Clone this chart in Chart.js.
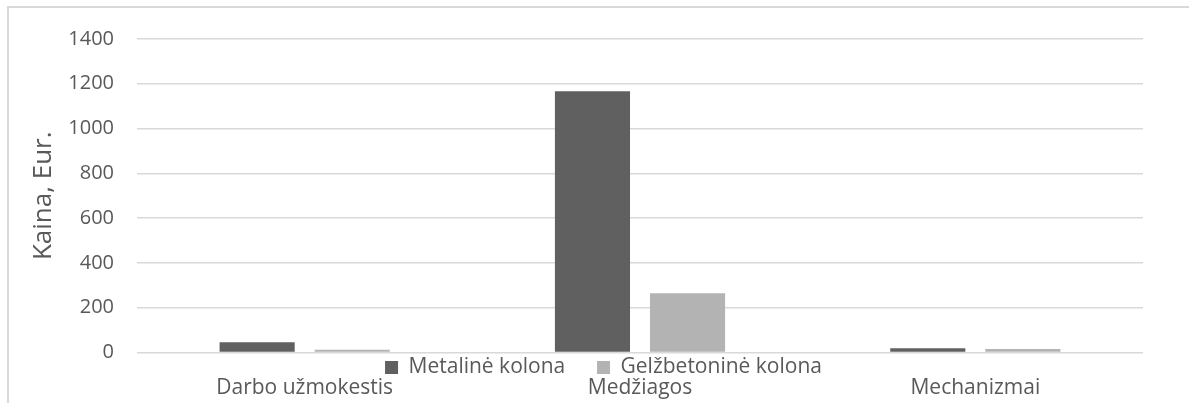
<!DOCTYPE html>
<html>
<head>
<meta charset="utf-8">
<script src="https://cdn.jsdelivr.net/npm/chart.js@4.4.1/dist/chart.umd.min.js"></script>
<style>
  html, body { margin: 0; padding: 0; background: #fff; }
  #wrap { position: relative; width: 1189px; height: 403px; overflow: hidden; }
  #frame { position: absolute; left: 7px; top: 6px; right: -10px; bottom: -10px;
           border-top: 2px solid #d9d9d9; border-left: 2px solid #d9d9d9; pointer-events: none; }
  canvas { position: absolute; left: 0; top: 0; }
</style>
</head>
<body>
<div id="wrap">
  <canvas id="c" width="1189" height="403"></canvas>
  <div id="frame"></div>
</div>
<script>
const categories = ["Darbo užmokestis", "Medžiagos", "Mechanizmai"];
const seriesNames = ["Metalinė kolona", "Gelžbetoninė kolona"];
const metalinė = [46, 1167, 19];
const gelžbetoninė = [12, 265, 16];
const yTicks = [0, 200, 400, 600, 800, 1000, 1200, 1400];
const yTitle = "Kaina, Eur.";

const textColor = "#595959";
const fontFamily = "'Open Sans', 'Noto Sans', sans-serif";
const NBSP = "\u00a0";

new Chart(document.getElementById("c"), {
  type: "bar",
  data: {
    labels: categories,
    datasets: [
      { label: seriesNames[0], data: metalinė, backgroundColor: "#606060", borderWidth: 0 },
      { label: seriesNames[1], data: gelžbetoninė, backgroundColor: "#b3b3b3", borderWidth: 0 }
    ]
  },
  options: {
    responsive: false,
    animation: false,
    devicePixelRatio: 1,
    categoryPercentage: 0.567,
    barPercentage: 0.79,
    layout: { padding: { left: 64, right: 46, top: 39, bottom: 0 } },
    plugins: {
      tooltip: { enabled: false },
      legend: {
        position: "bottom",
        align: "center",
        maxHeight: 23,
        labels: {
          color: textColor,
          font: { family: fontFamily, size: 21 },
          boxWidth: 13,
          boxHeight: 13,
          padding: 4.5,
          generateLabels: (chart) => {
            const items = Chart.defaults.plugins.legend.labels.generateLabels(chart);
            if (items.length > 0) items[0].text = items[0].text + NBSP.repeat(5);
            return items;
          }
        }
      }
    },
    scales: {
      x: {
        weight: 2000,
        grid: { display: false, drawTicks: false },
        border: { display: false },
        afterFit: (s) => { s.height = 27.5; },
        ticks: { color: textColor, font: { family: fontFamily, size: 21 }, padding: 0, maxRotation: 0, autoSkip: false }
      },
      y: {
        min: 0,
        max: 1400,
        afterBuildTicks: (s) => { s.ticks = yTicks.map(v => ({ value: v })); },
        afterFit: (s) => { s.width = 73; },
        grid: { color: "#d9d9d9", lineWidth: 1.5, drawTicks: false },
        border: { display: false },
        ticks: { color: textColor, font: { family: fontFamily, size: 20 }, padding: 23,
                 callback: (v) => String(v) },
        title: {
          display: true,
          text: yTitle,
          color: textColor,
          font: { family: fontFamily, size: 26 },
          padding: { top: -35.6, bottom: 0 }
        }
      }
    }
  }
});
</script>
</body>
</html>
